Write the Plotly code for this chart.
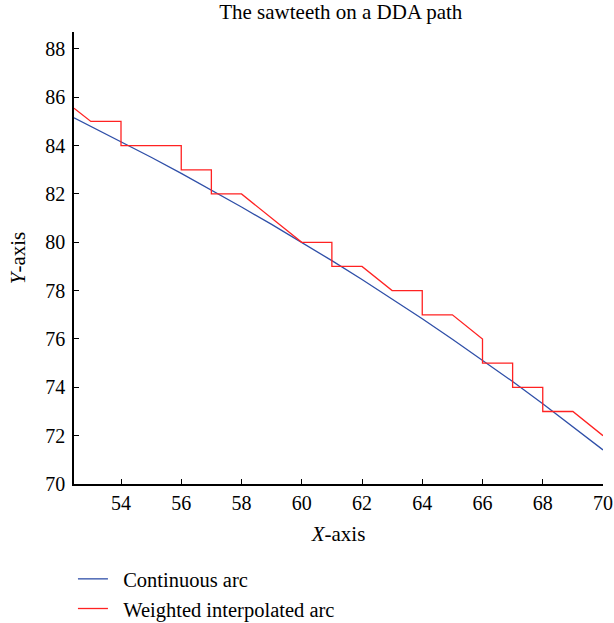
import plotly.graph_objects as go

# Continuous arc
arc_x = [52.44, 53, 54, 55, 56, 57, 58, 59, 60, 61, 62, 63, 64, 65, 66, 67, 68, 69, 70]
arc_y = [85.15, 84.80, 84.17, 83.52, 82.85, 82.16, 81.46, 80.74, 80.00, 79.24,
         78.46, 77.66, 76.84, 75.99, 75.13, 74.24, 73.32, 72.38, 71.41]

# Weighted interpolated arc (staircase)
wia_x = [52.44, 53, 54, 54, 56, 56, 57, 57, 58, 60, 61, 61, 62, 63, 64, 64, 65, 66, 66,
         67, 67, 68, 68, 69, 70]
wia_y = [85.55, 85, 85, 84, 84, 83, 83, 82, 82, 80, 80, 79, 79, 78, 78, 77, 77, 76, 75,
         75, 74, 74, 73, 73, 72]

x_ticks = [54, 56, 58, 60, 62, 64, 66, 68, 70]
y_ticks = [70, 72, 74, 76, 78, 80, 82, 84, 86, 88]

FONT = "Liberation Serif, DejaVu Serif, serif"
PAD = "\u00a0\u00a0"

fig = go.Figure()
fig.add_trace(go.Scatter(x=arc_x, y=arc_y, mode="lines", name=PAD + "Continuous arc",
                         line=dict(color="#2f4fa8", width=1.3)))
fig.add_trace(go.Scatter(x=wia_x, y=wia_y, mode="lines",
                         name=PAD + "Weighted interpolated arc",
                         line=dict(color="#ff2222", width=1.3)))

fig.update_layout(
    width=614, height=623,
    margin=dict(l=74, r=11, t=32, b=139, autoexpand=False),
    paper_bgcolor="white", plot_bgcolor="white",
    font=dict(family=FONT, size=20, color="black"),
    title=dict(text="The sawteeth on a DDA path", x=0.555, xanchor="center",
               y=0.993, yanchor="top", font=dict(size=21)),
    showlegend=True,
    legend=dict(x=-0.002, xanchor="left", y=-0.166, yanchor="top",
                font=dict(size=20.5), tracegroupgap=0, itemwidth=30,
                bgcolor="rgba(0,0,0,0)"),
)
fig.update_xaxes(range=[52.44, 70], tickvals=x_ticks, ticks="inside", ticklen=5,
                 tickwidth=1.3, tickcolor="black", showline=True, linecolor="black",
                 linewidth=1.5, showgrid=False, zeroline=False, automargin=False,
                 tickfont=dict(size=20),
                 title=dict(text="<i>X</i>-axis", standoff=14, font=dict(size=21)))
fig.update_yaxes(range=[70, 88.7], tickvals=y_ticks, ticks="inside", ticklen=5,
                 tickwidth=1.3, tickcolor="black", showline=True, linecolor="black",
                 linewidth=1.5, showgrid=False, zeroline=False, automargin=False,
                 tickfont=dict(size=20), ticklabelstandoff=3,
                 title=dict(text="<i>Y</i>-axis", standoff=14, font=dict(size=21)))

fig.write_html("out.html", config={"displayModeBar": False},
               post_script="document.body.style.margin='0';")
